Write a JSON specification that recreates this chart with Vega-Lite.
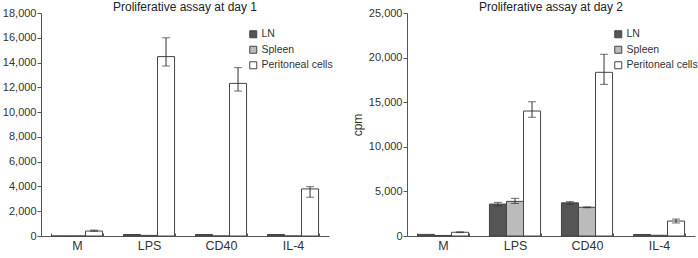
{
  "$schema": "https://vega.github.io/schema/vega-lite/v6.json",
  "padding": {"left": 2, "top": 1, "right": 0, "bottom": 2},
  "bounds": "flush",
  "spacing": 78,
  "config": {
    "view": {"stroke": null},
    "font": "Liberation Sans",
    "title": {"fontSize": 12, "fontWeight": "normal", "color": "#222222", "offset": -7, "anchor": "middle"},
    "axis": {"domainColor": "#555555", "tickColor": "#555555", "labelColor": "#333333", "titleColor": "#333333", "grid": false, "labelOverlap": false},
    "legend": {"labelColor": "#333333"}
  },
  "data": {"values": [
    {"day": 1, "stim": "M", "cell": "LN", "value": 0},
    {"day": 1, "stim": "M", "cell": "Spleen", "value": 0},
    {"day": 1, "stim": "M", "cell": "Peritoneal cells", "value": 400, "lo": 380, "hi": 480},
    {"day": 1, "stim": "LPS", "cell": "LN", "value": 120},
    {"day": 1, "stim": "LPS", "cell": "Spleen", "value": 50},
    {"day": 1, "stim": "LPS", "cell": "Peritoneal cells", "value": 14480, "lo": 13720, "hi": 16000},
    {"day": 1, "stim": "CD40", "cell": "LN", "value": 120},
    {"day": 1, "stim": "CD40", "cell": "Spleen", "value": 0},
    {"day": 1, "stim": "CD40", "cell": "Peritoneal cells", "value": 12320, "lo": 11700, "hi": 13590},
    {"day": 1, "stim": "IL-4", "cell": "LN", "value": 120},
    {"day": 1, "stim": "IL-4", "cell": "Spleen", "value": 0},
    {"day": 1, "stim": "IL-4", "cell": "Peritoneal cells", "value": 3800, "lo": 3130, "hi": 3980},
    {"day": 2, "stim": "M", "cell": "LN", "value": 180},
    {"day": 2, "stim": "M", "cell": "Spleen", "value": 60},
    {"day": 2, "stim": "M", "cell": "Peritoneal cells", "value": 420, "lo": 380, "hi": 470},
    {"day": 2, "stim": "LPS", "cell": "LN", "value": 3580, "lo": 3370, "hi": 3770},
    {"day": 2, "stim": "LPS", "cell": "Spleen", "value": 3880, "lo": 3650, "hi": 4220},
    {"day": 2, "stim": "LPS", "cell": "Peritoneal cells", "value": 14010, "lo": 13300, "hi": 15050},
    {"day": 2, "stim": "CD40", "cell": "LN", "value": 3720, "lo": 3560, "hi": 3850},
    {"day": 2, "stim": "CD40", "cell": "Spleen", "value": 3220, "lo": 3170, "hi": 3260},
    {"day": 2, "stim": "CD40", "cell": "Peritoneal cells", "value": 18350, "lo": 17000, "hi": 20370},
    {"day": 2, "stim": "IL-4", "cell": "LN", "value": 170},
    {"day": 2, "stim": "IL-4", "cell": "Spleen", "value": 80},
    {"day": 2, "stim": "IL-4", "cell": "Peritoneal cells", "value": 1680, "lo": 1460, "hi": 1900}
  ]},
  "resolve": {"scale": {"color": "independent", "y": "independent", "x": "independent", "xOffset": "independent"}, "legend": {"color": "independent"}},
  "hconcat": [
    {
      "width": 288, "height": 223,
      "title": {"text": "Proliferative assay at day 1"},
      "transform": [{"filter": "datum.day == 1"}],
      "encoding": {
        "x": {"field": "stim", "type": "nominal", "sort": ["M", "LPS", "CD40", "IL-4"], "scale": {"paddingInner": 0.29, "paddingOuter": 0.145},
              "axis": {"title": null, "labelAngle": 0, "labelFontSize": 12.5, "labelPadding": 6, "tickBand": "extent", "tickSize": -3}},
        "xOffset": {"field": "cell", "type": "nominal", "sort": ["LN", "Spleen", "Peritoneal cells"], "scale": {"paddingInner": 0, "paddingOuter": 0}}
      },
      "layer": [
        {"mark": {"type": "bar", "stroke": "#444444", "strokeWidth": 1},
         "encoding": {
           "y": {"field": "value", "type": "quantitative", "scale": {"domain": [0, 18000]},
                 "axis": {"title": null, "values": [0, 2000, 4000, 6000, 8000, 10000, 12000, 14000, 16000, 18000], "format": ",d", "labelFontSize": 11, "tickSize": 4, "labelPadding": 1, "labelOverlap": false}},
           "color": {"field": "cell", "type": "nominal", "scale": {"domain": ["LN", "Spleen", "Peritoneal cells"], "range": ["#555555", "#bbbbbb", "#ffffff"]},
                     "legend": {"title": null, "orient": "none", "legendX": 207, "legendY": 16, "symbolType": "square", "symbolSize": 49, "symbolStrokeColor": "#444444", "symbolStrokeWidth": 1, "labelFontSize": 10.5, "rowPadding": 3.5, "padding": 0, "labelOffset": 3}}
         }},
        {"mark": {"type": "rule", "color": "#333333", "strokeWidth": 1},
         "encoding": {"y": {"field": "lo", "type": "quantitative", "scale": {"domain": [0, 18000]},
                 "axis": {"title": null, "values": [0, 2000, 4000, 6000, 8000, 10000, 12000, 14000, 16000, 18000], "format": ",d", "labelFontSize": 11, "tickSize": 4, "labelPadding": 1, "labelOverlap": false}}, "y2": {"field": "hi"}}},
        {"mark": {"type": "tick", "color": "#333333", "thickness": 1, "size": 8},
         "encoding": {"y": {"field": "hi", "type": "quantitative", "scale": {"domain": [0, 18000]},
                 "axis": {"title": null, "values": [0, 2000, 4000, 6000, 8000, 10000, 12000, 14000, 16000, 18000], "format": ",d", "labelFontSize": 11, "tickSize": 4, "labelPadding": 1, "labelOverlap": false}}}},
        {"mark": {"type": "tick", "color": "#333333", "thickness": 1, "size": 8},
         "encoding": {"y": {"field": "lo", "type": "quantitative", "scale": {"domain": [0, 18000]},
                 "axis": {"title": null, "values": [0, 2000, 4000, 6000, 8000, 10000, 12000, 14000, 16000, 18000], "format": ",d", "labelFontSize": 11, "tickSize": 4, "labelPadding": 1, "labelOverlap": false}}}}
      ]
    },
    {
      "width": 288, "height": 223,
      "title": {"text": "Proliferative assay at day 2"},
      "transform": [{"filter": "datum.day == 2"}],
      "encoding": {
        "x": {"field": "stim", "type": "nominal", "sort": ["M", "LPS", "CD40", "IL-4"], "scale": {"paddingInner": 0.29, "paddingOuter": 0.145},
              "axis": {"title": null, "labelAngle": 0, "labelFontSize": 12.5, "labelPadding": 6, "tickBand": "extent", "tickSize": -3}},
        "xOffset": {"field": "cell", "type": "nominal", "sort": ["LN", "Spleen", "Peritoneal cells"], "scale": {"paddingInner": 0, "paddingOuter": 0}}
      },
      "layer": [
        {"mark": {"type": "bar", "stroke": "#444444", "strokeWidth": 1},
         "encoding": {
           "y": {"field": "value", "type": "quantitative", "scale": {"domain": [0, 25000]},
                 "axis": {"title": "cpm", "titleFontSize": 12, "titleFontWeight": "normal", "titlePadding": 4, "values": [0, 5000, 10000, 15000, 20000, 25000], "format": ",d", "labelFontSize": 11, "tickSize": 4, "labelPadding": 1, "labelOverlap": false}},
           "color": {"field": "cell", "type": "nominal", "scale": {"domain": ["LN", "Spleen", "Peritoneal cells"], "range": ["#555555", "#bbbbbb", "#ffffff"]},
                     "legend": {"title": null, "orient": "none", "legendX": 206, "legendY": 16, "symbolType": "square", "symbolSize": 49, "symbolStrokeColor": "#444444", "symbolStrokeWidth": 1, "labelFontSize": 10.5, "rowPadding": 3.5, "padding": 0, "labelOffset": 3}}
         }},
        {"mark": {"type": "rule", "color": "#333333", "strokeWidth": 1},
         "encoding": {"y": {"field": "lo", "type": "quantitative", "scale": {"domain": [0, 25000]},
                 "axis": {"title": "cpm", "titleFontSize": 12, "titleFontWeight": "normal", "titlePadding": 4, "values": [0, 5000, 10000, 15000, 20000, 25000], "format": ",d", "labelFontSize": 11, "tickSize": 4, "labelPadding": 1, "labelOverlap": false}}, "y2": {"field": "hi"}}},
        {"mark": {"type": "tick", "color": "#333333", "thickness": 1, "size": 8},
         "encoding": {"y": {"field": "hi", "type": "quantitative", "scale": {"domain": [0, 25000]},
                 "axis": {"title": "cpm", "titleFontSize": 12, "titleFontWeight": "normal", "titlePadding": 4, "values": [0, 5000, 10000, 15000, 20000, 25000], "format": ",d", "labelFontSize": 11, "tickSize": 4, "labelPadding": 1, "labelOverlap": false}}}},
        {"mark": {"type": "tick", "color": "#333333", "thickness": 1, "size": 8},
         "encoding": {"y": {"field": "lo", "type": "quantitative", "scale": {"domain": [0, 25000]},
                 "axis": {"title": "cpm", "titleFontSize": 12, "titleFontWeight": "normal", "titlePadding": 4, "values": [0, 5000, 10000, 15000, 20000, 25000], "format": ",d", "labelFontSize": 11, "tickSize": 4, "labelPadding": 1, "labelOverlap": false}}}}
      ]
    }
  ]
}
